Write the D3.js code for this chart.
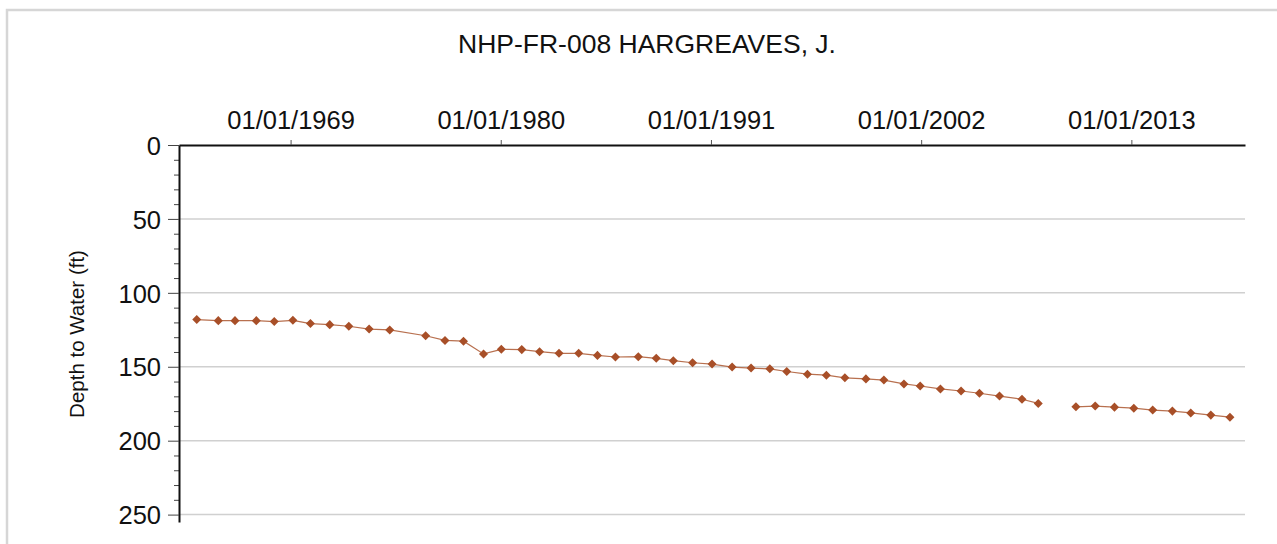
<!DOCTYPE html>
<html>
<head>
<meta charset="utf-8">
<script src="https://cdn.jsdelivr.net/npm/d3@7"></script>
<style>
  body { margin: 0; background: #fff; }
  text { font-family: "Liberation Sans", Arial, sans-serif; fill: #111; }
</style>
</head>
<body>
<div id="chart"></div>
<script>
// measurement dates and depth to water (ft); null = break in the record
const sampleDates = [
  "1964-02-03", "1965-03-21", "1966-02-03", "1967-03-17", "1968-02-24", "1969-02-14",
  "1970-01-15", "1971-01-19", "1972-01-19", "1973-02-10", "1974-03-11",
  "1976-01-26", "1977-01-30", "1978-01-19", "1979-02-06",
  "1980-01-12", "1981-02-06", "1982-01-12", "1983-01-19", "1984-01-30", "1985-01-22",
  "1986-01-01", "1987-03-14", "1988-02-20", "1989-01-12", "1990-01-15", "1991-01-22",
  "1992-02-10", "1993-02-06", "1994-01-30", "1994-12-20", "1996-01-19", "1997-01-15",
  "1998-01-04", "1999-02-10", "2000-01-19", "2001-02-06", "2001-12-13", "2003-01-04",
  "2004-02-03", "2005-01-19", "2006-02-06", "2007-04-12", "2008-02-17",
  "2009-02-01",
  "2010-02-06", "2011-02-10", "2012-02-13", "2013-02-17", "2014-02-13", "2015-02-24",
  "2016-02-10", "2017-02-28", "2018-02-28"
];
const depthValues = [
  118.1, 118.8, 118.8, 118.8, 119.4, 118.6,
  120.8, 121.5, 122.6, 124.5, 125.1,
  129.0, 132.2, 132.7, 141.3,
  138.2, 138.4, 139.8, 140.9, 140.9, 142.3,
  143.4, 143.2, 144.3, 145.9, 147.3, 148.2,
  150.2, 150.9, 151.4, 153.2, 155.0, 155.7,
  157.5, 158.2, 159.0, 161.6, 163.0, 165.0,
  166.4, 167.9, 169.8, 172.0, 174.8,
  null,
  177.1, 176.6, 177.3, 178.0, 179.3, 180.0,
  181.2, 182.7, 184.1
];
const xTickDates = ["1969-01-01", "1980-01-01", "1991-01-01", "2002-01-01", "2013-01-01"];
const yTicks = [0, 50, 100, 150, 200, 250];
const titleText = "NHP-FR-008 HARGREAVES, J.";
const yLabel = "Depth to Water (ft)";

const parseDate = d3.timeParse("%Y-%m-%d");
const data = sampleDates.map((d, i) => ({ date: parseDate(d), depth: depthValues[i] }));

const svgWidth = 1277, svgHeight = 544;
const margin = { top: 145, right: 32, bottom: 22, left: 179 };
const width = svgWidth - margin.left - margin.right;   // 1066
const height = svgHeight - margin.top - margin.bottom; // 377

const svg = d3.select("#chart").append("svg")
    .attr("width", svgWidth)
    .attr("height", svgHeight);

// outer frame
svg.append("rect")
    .attr("x", 7).attr("y", 10)
    .attr("width", 1300).attr("height", 600)
    .attr("fill", "none")
    .attr("stroke", "#d6d6d6")
    .attr("stroke-width", 2.5);

svg.append("text")
    .attr("x", 647).attr("y", 53)
    .attr("text-anchor", "middle")
    .style("font-size", "26.5px")
    .text(titleText);

const g = svg.append("g")
    .attr("transform", `translate(${margin.left},${margin.top})`);

const x = d3.scaleTime()
    .domain([parseDate("1963-03-01"), parseDate("2018-12-13")])
    .range([0, width]);
const y = d3.scaleLinear().domain([0, 255]).range([0, height]);

// grid lines
g.append("g")
    .selectAll("line")
    .data(yTicks.filter(d => d > 0))
    .enter().append("line")
    .attr("x1", 0).attr("x2", width)
    .attr("y1", d => y(d)).attr("y2", d => y(d))
    .attr("stroke", "#d0d0d0")
    .attr("stroke-width", 1.5);

// top axis
const xAxis = g.append("g")
    .call(d3.axisTop(x)
        .tickValues(xTickDates.map(parseDate))
        .tickFormat(d3.timeFormat("%m/%d/%Y"))
        .tickSize(5)
        .tickSizeOuter(0));
xAxis.select(".domain").attr("stroke", "#111").attr("stroke-width", 2);
xAxis.selectAll(".tick line").attr("stroke", "#555");
xAxis.selectAll("text")
    .attr("y", -16)
    .style("font-size", "25.5px")
    .attr("fill", "#111");

// left axis: minor ticks every 10
g.append("g")
    .call(d3.axisLeft(y)
        .tickValues(d3.range(0, 251, 10).filter(d => d % 50 !== 0))
        .tickSize(5)
        .tickFormat(""))
    .call(a => a.select(".domain").remove())
    .selectAll(".tick line").attr("stroke", "#444");

const yAxis = g.append("g")
    .call(d3.axisLeft(y)
        .tickValues(yTicks)
        .tickSize(11)
        .tickSizeOuter(0));
yAxis.select(".domain").attr("stroke", "#111").attr("stroke-width", 2);
yAxis.selectAll(".tick line").attr("stroke", "#444");
yAxis.selectAll("text")
    .attr("x", -18)
    .attr("dy", "0.36em")
    .style("font-size", "25.5px")
    .attr("fill", "#111");

svg.append("text")
    .attr("transform", "translate(84,334) rotate(-90)")
    .attr("text-anchor", "middle")
    .style("font-size", "20.5px")
    .text(yLabel);

// series line
const line = d3.line()
    .defined(d => d.depth !== null)
    .x(d => x(d.date))
    .y(d => y(d.depth));

g.append("path")
    .datum(data)
    .attr("fill", "none")
    .attr("stroke", "#b8704f")
    .attr("stroke-width", 1.2)
    .attr("d", line);

g.selectAll(".pt")
    .data(data.filter(d => d.depth !== null))
    .enter().append("path")
    .attr("class", "pt")
    .attr("transform", d => `translate(${x(d.date)},${y(d.depth)})`)
    .attr("d", d3.symbol().type(d3.symbolDiamond2).size(52))
    .attr("fill", "#a84f28");
</script>
</body>
</html>
